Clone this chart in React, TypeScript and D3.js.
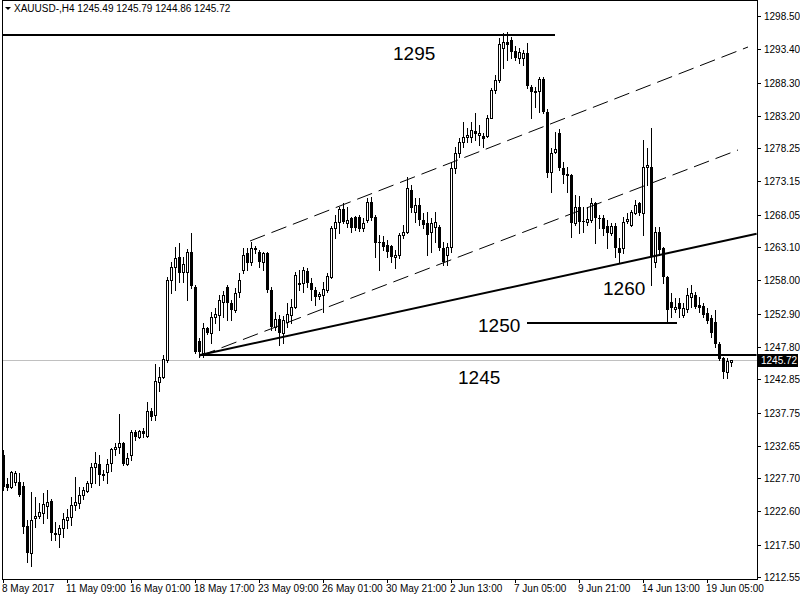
import * as d3 from "d3";

// H4 candles, [open, high, low, close]
const CANDLES: [number, number, number, number][] = [
  [1231.24, 1232.01, 1225.88, 1226.34], [1226.8, 1227.72, 1225.88, 1226.18], [1226.34, 1228.79, 1226.18, 1228.63],
  [1227.1, 1228.79, 1226.64, 1228.48], [1227.1, 1228.48, 1224.96, 1225.11], [1226.49, 1227.1, 1219.29, 1220.21],
  [1220.36, 1221.28, 1214.85, 1216.22], [1216.22, 1225.57, 1214.23, 1221.28], [1221.59, 1224.8, 1220.21, 1221.89],
  [1221.89, 1223.89, 1221.59, 1222.51], [1222.35, 1225.42, 1220.82, 1223.73], [1223.43, 1225.88, 1221.59, 1224.04],
  [1224.19, 1224.5, 1218.22, 1219.29], [1219.29, 1220.97, 1218.22, 1218.98], [1219.14, 1220.51, 1217.14, 1220.06],
  [1220.06, 1222.35, 1218.68, 1221.43], [1221.28, 1222.97, 1220.06, 1221.74], [1221.74, 1224.8, 1220.51, 1223.58],
  [1223.58, 1227.87, 1222.81, 1224.04], [1223.89, 1226.34, 1223.12, 1225.11], [1225.11, 1226.34, 1224.5, 1225.88],
  [1225.72, 1227.26, 1225.57, 1226.95], [1226.95, 1230.01, 1226.34, 1229.4], [1229.4, 1231.7, 1226.95, 1230.01],
  [1229.86, 1231.24, 1226.64, 1228.18], [1228.33, 1228.94, 1227.41, 1228.02], [1228.63, 1230.63, 1226.95, 1229.86],
  [1230.01, 1232.31, 1228.79, 1232.16], [1232.16, 1233.08, 1231.24, 1232.46], [1232.46, 1237.52, 1231.55, 1233.08],
  [1233.08, 1233.23, 1229.71, 1229.86], [1229.86, 1231.55, 1229.71, 1230.78], [1231.24, 1235.07, 1230.47, 1234.76],
  [1234.76, 1235.07, 1233.54, 1234.0], [1234.0, 1235.07, 1233.84, 1234.92], [1234.92, 1235.38, 1234.0, 1234.46],
  [1234.15, 1239.36, 1234.0, 1237.98], [1237.98, 1238.44, 1236.6, 1237.06], [1237.37, 1245.18, 1236.6, 1242.58],
  [1242.42, 1244.72, 1241.04, 1243.19], [1243.19, 1246.56, 1243.04, 1245.95], [1245.79, 1258.51, 1245.49, 1258.05],
  [1258.05, 1260.81, 1256.06, 1260.04], [1260.04, 1263.11, 1256.52, 1261.42], [1261.58, 1263.72, 1257.74, 1259.12],
  [1259.28, 1261.58, 1257.74, 1260.5], [1259.28, 1262.8, 1254.99, 1262.34], [1262.34, 1265.25, 1256.83, 1257.13],
  [1256.98, 1257.29, 1246.87, 1247.02], [1248.7, 1249.16, 1246.25, 1247.02], [1246.87, 1251.46, 1246.25, 1250.7],
  [1250.7, 1250.85, 1249.78, 1249.93], [1249.93, 1253.15, 1248.4, 1252.38], [1252.38, 1253.76, 1251.46, 1252.84],
  [1252.69, 1255.75, 1250.39, 1254.99], [1254.68, 1256.37, 1252.38, 1255.75], [1256.98, 1257.29, 1251.92, 1254.53],
  [1254.53, 1254.99, 1251.92, 1253.45], [1253.45, 1256.83, 1253.15, 1256.06], [1256.21, 1259.12, 1255.45, 1258.05],
  [1259.58, 1262.95, 1259.12, 1261.88], [1262.19, 1262.95, 1259.58, 1260.66], [1260.81, 1263.87, 1260.35, 1262.95],
  [1262.95, 1263.26, 1262.19, 1262.65], [1262.34, 1262.65, 1260.04, 1260.81], [1260.81, 1262.34, 1259.58, 1262.19],
  [1262.19, 1262.34, 1256.21, 1256.52], [1256.52, 1256.98, 1250.39, 1250.85], [1250.85, 1253.15, 1250.39, 1252.08],
  [1252.08, 1252.69, 1248.09, 1249.93], [1249.93, 1252.54, 1248.4, 1251.92], [1251.62, 1254.53, 1250.85, 1252.84],
  [1252.69, 1255.14, 1251.46, 1253.91], [1253.91, 1259.28, 1253.76, 1258.82], [1257.44, 1259.58, 1256.52, 1257.59],
  [1257.59, 1260.04, 1256.21, 1259.58], [1259.43, 1259.89, 1256.98, 1257.59], [1257.59, 1258.36, 1254.99, 1256.52],
  [1256.52, 1256.98, 1254.22, 1255.45], [1255.6, 1256.21, 1255.14, 1255.91], [1255.75, 1257.74, 1253.15, 1256.67],
  [1256.52, 1259.12, 1256.21, 1258.66], [1258.51, 1266.32, 1258.36, 1266.02], [1266.02, 1268.01, 1264.49, 1266.94],
  [1266.94, 1269.24, 1265.25, 1268.93], [1268.93, 1269.85, 1266.78, 1266.94], [1266.78, 1269.24, 1266.17, 1267.24],
  [1267.55, 1267.7, 1265.41, 1266.02], [1267.7, 1267.86, 1265.71, 1266.02], [1267.7, 1268.01, 1265.56, 1265.86],
  [1266.02, 1267.55, 1265.56, 1266.78], [1267.24, 1270.61, 1266.94, 1270.0], [1270.0, 1270.77, 1267.24, 1267.55],
  [1267.7, 1268.01, 1261.58, 1263.72], [1263.87, 1264.95, 1259.58, 1263.72], [1263.87, 1264.79, 1262.65, 1263.11],
  [1263.41, 1264.18, 1261.58, 1262.34], [1263.26, 1263.41, 1260.81, 1261.58], [1261.58, 1262.65, 1259.89, 1261.88],
  [1261.88, 1265.25, 1261.42, 1264.95], [1264.95, 1266.48, 1264.49, 1265.41], [1265.41, 1273.83, 1265.25, 1272.15],
  [1271.84, 1272.61, 1268.47, 1269.08], [1268.47, 1270.61, 1266.94, 1269.54], [1269.54, 1270.61, 1266.48, 1267.24],
  [1267.24, 1268.32, 1266.02, 1266.48], [1266.78, 1268.47, 1261.88, 1264.95], [1265.41, 1267.55, 1262.34, 1266.78],
  [1266.17, 1268.47, 1263.87, 1266.94], [1266.17, 1266.48, 1262.65, 1262.95], [1262.95, 1263.87, 1260.35, 1260.81],
  [1261.88, 1263.72, 1260.35, 1263.11], [1263.11, 1276.13, 1262.34, 1275.21], [1275.21, 1278.43, 1274.44, 1277.51],
  [1277.51, 1279.81, 1276.9, 1279.19], [1279.19, 1282.26, 1278.43, 1279.96], [1279.96, 1281.34, 1279.19, 1280.27],
  [1279.96, 1282.26, 1279.19, 1281.03], [1280.88, 1283.64, 1279.5, 1280.42], [1280.27, 1281.8, 1278.73, 1280.57],
  [1280.11, 1280.57, 1278.43, 1279.65], [1280.11, 1283.33, 1279.96, 1282.87], [1282.87, 1287.47, 1282.87, 1287.16],
  [1287.16, 1289.46, 1286.7, 1288.69], [1288.69, 1295.13, 1288.39, 1294.21], [1293.6, 1295.89, 1290.53, 1294.52],
  [1294.52, 1296.05, 1291.76, 1294.06], [1294.82, 1295.28, 1292.06, 1292.98], [1293.14, 1293.9, 1291.76, 1292.06],
  [1292.06, 1293.6, 1291.3, 1292.98], [1292.06, 1293.29, 1290.99, 1292.83], [1292.83, 1294.36, 1287.47, 1287.77],
  [1287.62, 1287.93, 1282.87, 1286.86], [1286.86, 1287.62, 1284.56, 1287.01], [1287.01, 1289.15, 1283.79, 1288.85],
  [1288.85, 1289.15, 1283.64, 1283.79], [1283.79, 1284.25, 1273.83, 1274.44], [1274.6, 1278.27, 1271.53, 1277.51],
  [1277.66, 1280.73, 1277.51, 1278.12], [1280.57, 1281.19, 1274.9, 1275.21], [1275.21, 1276.13, 1272.91, 1274.14],
  [1274.29, 1275.36, 1271.53, 1273.99], [1274.14, 1274.29, 1264.64, 1266.78], [1266.78, 1271.07, 1266.48, 1269.24],
  [1269.24, 1270.92, 1265.25, 1266.94], [1267.09, 1269.24, 1265.41, 1266.94], [1266.94, 1269.24, 1266.48, 1267.4],
  [1267.24, 1270.61, 1266.94, 1269.85], [1269.85, 1270.0, 1263.72, 1267.55], [1267.55, 1268.01, 1266.02, 1267.4],
  [1267.55, 1268.01, 1264.95, 1265.86], [1266.32, 1267.24, 1262.95, 1265.25], [1265.25, 1266.78, 1264.95, 1266.32],
  [1266.32, 1266.78, 1261.58, 1262.95], [1262.95, 1264.49, 1260.66, 1262.19], [1262.95, 1267.7, 1262.19, 1266.94],
  [1267.09, 1268.32, 1266.78, 1267.4], [1266.48, 1268.78, 1266.32, 1268.47], [1268.32, 1270.31, 1268.16, 1269.54],
  [1269.85, 1270.0, 1268.01, 1268.32], [1268.32, 1279.5, 1264.95, 1275.36], [1275.36, 1278.27, 1272.61, 1275.67],
  [1275.36, 1281.34, 1257.29, 1261.58], [1260.81, 1266.17, 1260.04, 1265.41], [1265.41, 1266.17, 1261.88, 1262.65],
  [1262.95, 1263.11, 1257.59, 1258.51], [1258.51, 1258.66, 1251.62, 1253.45], [1254.68, 1256.06, 1252.38, 1253.76],
  [1253.61, 1255.29, 1253.15, 1253.91], [1254.53, 1255.29, 1252.38, 1253.61], [1252.69, 1254.53, 1252.38, 1253.76],
  [1253.61, 1256.83, 1253.15, 1255.75], [1255.45, 1257.29, 1253.91, 1256.06], [1255.75, 1256.21, 1253.76, 1253.91],
  [1254.22, 1255.45, 1253.15, 1253.76], [1254.07, 1254.53, 1252.38, 1252.69], [1253.0, 1253.76, 1251.46, 1251.77],
  [1252.23, 1252.69, 1249.32, 1249.93], [1251.62, 1253.45, 1247.79, 1248.25], [1248.25, 1248.55, 1245.79, 1245.95],
  [1246.1, 1246.25, 1243.04, 1243.96], [1243.96, 1246.1, 1243.04, 1245.64], [1245.49, 1245.79, 1244.86, 1245.72],
];

const PRICE_TICKS = [
  1298.5, 1293.4, 1288.3, 1283.2, 1278.25, 1273.15, 1268.05, 1263.1, 1258.0,
  1252.9, 1247.8, 1242.85, 1237.75, 1232.65, 1227.7, 1222.6, 1217.5, 1212.55,
];

const DATE_BARS = [0, 16, 32, 48, 64, 80, 96, 112, 128, 144, 160, 176];
const DATE_LABELS = [
  "8 May 2017", "11 May 09:00", "16 May 01:00", "18 May 17:00", "23 May 09:00", "26 May 01:00",
  "30 May 21:00", "2 Jun 13:00", "7 Jun 05:00", "9 Jun 21:00", "14 Jun 13:00", "19 Jun 05:00",
];

// horizontal levels: [price, from bar, to bar]
const LEVELS: [number, number, number][] = [
  [1295.59, 0, 138],
  [1251.46, 131, 168.5],
  [1246.56, 49.25, 188.4],
];

// trend lines: [bar1, price1, bar2, price2, dashed]
const TRENDS: [number, number, number, number, boolean][] = [
  [49.25, 1246.56, 188.4, 1265.13, false],
  [49.25, 1246.41, 183.75, 1277.97, true],
  [61.75, 1264.03, 186.25, 1293.75, true],
];

// level captions: [text, bar, price]
const CAPTIONS: [string, number, number][] = [
  ["1295", 97.5, 1291.76],
  ["1260", 150, 1255.75],
  ["1250", 118.75, 1250.08],
  ["1245", 113.75, 1242.12],
];

const SYMBOL = "XAUUSD-,H4";
const LAST = CANDLES[CANDLES.length - 1];

const W = 800;
const H = 600;
const LEFT = 2;
const RIGHT = 757;
const BOTTOM = 579;
const FONT = "Tahoma, 'Liberation Sans', Arial, sans-serif";

export default function App() {
  const x = d3.scaleLinear().domain([0, 1]).range([3, 7]);
  const y = d3.scaleLinear().domain([1212.55, 1298.5]).range([577, 16]);
  const ry = (p: number) => Math.round(y(p));
  const last = LAST[3];

  return (
    <svg
      width={W}
      height={H}
      style={{ position: "absolute", left: 0, top: 0, background: "#fff" }}
      fontFamily={FONT}
    >
      <defs>
        <clipPath id="plot">
          <rect x={LEFT + 1} y={1} width={RIGHT - LEFT - 1} height={BOTTOM - 1} />
        </clipPath>
      </defs>

      {/* bid line */}
      <line x1={LEFT} x2={RIGHT} y1={ry(last) + 0.5} y2={ry(last) + 0.5} stroke="#c0c0c0" />

      <g clipPath="url(#plot)" shapeRendering="crispEdges">
        {CANDLES.map(([o, hi, lo, c], i) => {
          const cx = Math.round(x(i));
          const top = ry(Math.max(o, c));
          const bot = ry(Math.min(o, c));
          const bull = c >= o;
          return (
            <g key={i}>
              <line x1={cx + 0.5} x2={cx + 0.5} y1={ry(hi)} y2={ry(lo) + 1} stroke="#000" />
              {bull ? (
                <rect x={cx - 0.5} y={top + 0.5} width={2} height={Math.max(bot - top, 0)} fill="#fff" stroke="#000" />
              ) : (
                <rect x={cx - 1} y={top} width={3} height={Math.max(bot - top, 1)} fill="#000" />
              )}
            </g>
          );
        })}
      </g>

      <g clipPath="url(#plot)">
        {LEVELS.map(([p, a, b], i) => (
          <line key={i} x1={x(a)} x2={x(b)} y1={y(p)} y2={y(p)} stroke="#000" strokeWidth={2} />
        ))}
        {TRENDS.map(([a, p1, b, p2, dashed], i) => (
          <line
            key={i}
            x1={x(a)}
            y1={y(p1)}
            x2={x(b)}
            y2={y(p2)}
            stroke="#000"
            strokeWidth={dashed ? 1 : 2}
            strokeDasharray={dashed ? "16,7" : undefined}
          />
        ))}
        {CAPTIONS.map(([t, a, p]) => (
          <text key={t} x={x(a)} y={y(p)} fontFamily="Arial, 'Liberation Sans', sans-serif" fontSize={19} fill="#000">
            {t}
          </text>
        ))}
      </g>

      {/* frame */}
      <rect x={LEFT + 0.5} y={0.5} width={RIGHT - LEFT} height={BOTTOM - 0.5} fill="none" stroke="#000" shapeRendering="crispEdges" />

      {/* title */}
      <path d="M5,7 L11,7 L8,10 Z" fill="#000" />
      <text x={14} y={12} fontSize={10} fill="#000">
        {`${SYMBOL}  ${LAST.map((v) => v.toFixed(2)).join(" ")}`}
      </text>

      {/* price axis */}
      <g fontSize={10} fill="#000">
        {PRICE_TICKS.map((p) => (
          <g key={p}>
            <line x1={RIGHT} x2={RIGHT + 4} y1={ry(p) + 0.5} y2={ry(p) + 0.5} stroke="#000" />
            <text x={764} y={ry(p) + 4}>
              {p.toFixed(2)}
            </text>
          </g>
        ))}
        <rect x={RIGHT + 1} y={ry(last) - 6} width={40} height={13} fill="#000" />
        <text x={761} y={ry(last) + 4} fill="#fff">
          {last.toFixed(2)}
        </text>
      </g>

      {/* time axis */}
      <g fontSize={10} fill="#000">
        {DATE_BARS.map((b, i) => (
          <g key={b}>
            <line x1={x(b) + 0.5} x2={x(b) + 0.5} y1={BOTTOM} y2={BOTTOM + 4} stroke="#000" />
            <text x={x(b) - 1} y={592}>
              {DATE_LABELS[i]}
            </text>
          </g>
        ))}
      </g>
    </svg>
  );
}
